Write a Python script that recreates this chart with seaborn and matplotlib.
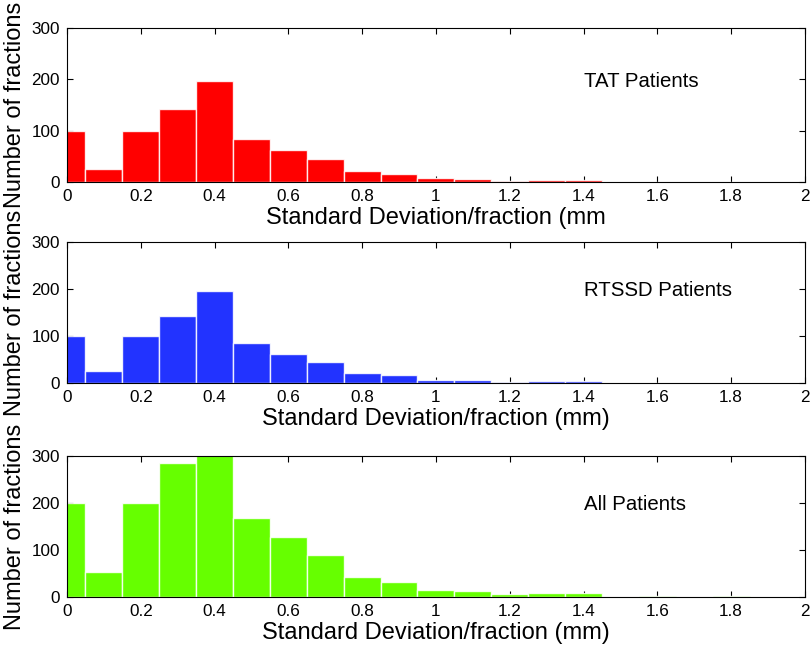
import numpy as np
import pandas as pd
import matplotlib
matplotlib.use("Agg")
import matplotlib.pyplot as plt
import seaborn as sns

# bin centres (mm) and counts
bin_centers = [0.0, 0.1, 0.2, 0.3, 0.4, 0.5, 0.6, 0.7, 0.8, 0.9,
               1.0, 1.1, 1.2, 1.3, 1.4, 1.5, 1.6, 1.7, 1.8, 1.9]
tat_counts = [99, 26, 99, 143, 196, 84, 63, 44, 21, 16,
              7, 6.5, 2.6, 4, 4, 0, 0.6, 0, 0.6, 0]
rtssd_counts = [99, 26, 99, 142, 195, 84, 62, 44, 21, 16,
                7, 6.5, 2.6, 4, 4, 0, 0.6, 0, 0.6, 0]
all_counts = [199, 53, 199, 285, 392, 169, 127, 89, 43, 32,
              15, 13, 6, 9, 9, 0, 1.2, 0, 1.2, 0]

panels = [
    ("TAT Patients", tat_counts, "#ff0000", "Standard Deviation/fraction (mm"),
    ("RTSSD Patients", rtssd_counts, "#2233ff", "Standard Deviation/fraction (mm)"),
    ("All Patients", all_counts, "#66ff00", "Standard Deviation/fraction (mm)"),
]

sns.set_style("ticks")
plt.rcParams['font.family'] = ['Liberation Sans', 'DejaVu Sans']
plt.rcParams['axes.linewidth'] = 0.8
plt.rcParams['text.color'] = 'black'
plt.rcParams['axes.labelcolor'] = 'black'
plt.rcParams['xtick.color'] = 'black'
plt.rcParams['ytick.color'] = 'black'

fig = plt.figure(figsize=(8.1, 6.48), dpi=100)
# axes boxes in figure fraction (left, bottom, width, height)
boxes = [
    (0.0827, 0.719, 0.911, 0.2377),
    (0.0827, 0.409, 0.911, 0.2176),
    (0.0827, 0.0787, 0.911, 0.2176),
]

for (label, counts, color, xlab), box in zip(panels, boxes):
    ax = fig.add_axes(box)
    df = pd.DataFrame({"sd": bin_centers, "n": counts})
    sns.histplot(data=df, x="sd", weights="n", binwidth=0.1,
                 binrange=(-0.05, 1.95), color=color, alpha=1,
                 edgecolor=(1, 1, 1, 0.85), linewidth=1, ax=ax)
    ax.set_xlim(0, 2)
    ax.set_ylim(0, 300)
    ax.set_xticks(np.arange(0, 2.01, 0.2))
    ax.set_xticklabels(["0", "0.2", "0.4", "0.6", "0.8", "1",
                        "1.2", "1.4", "1.6", "1.8", "2"])
    ax.set_yticks([0, 100, 200, 300])
    ax.tick_params(direction="in", top=True, right=True, length=4.5,
                   width=0.8, labelsize=12.3, pad=5)
    ax.set_xlabel(xlab, fontsize=17, labelpad=2)
    ax.set_ylabel("Number of fractions", fontsize=17, labelpad=4)
    ax.text(1.4, 185, label, fontsize=14.7, ha="left", va="baseline")
    for s in ax.spines.values():
        s.set_visible(True)
        s.set_color("black")

fig.savefig("out.png", dpi=100)
